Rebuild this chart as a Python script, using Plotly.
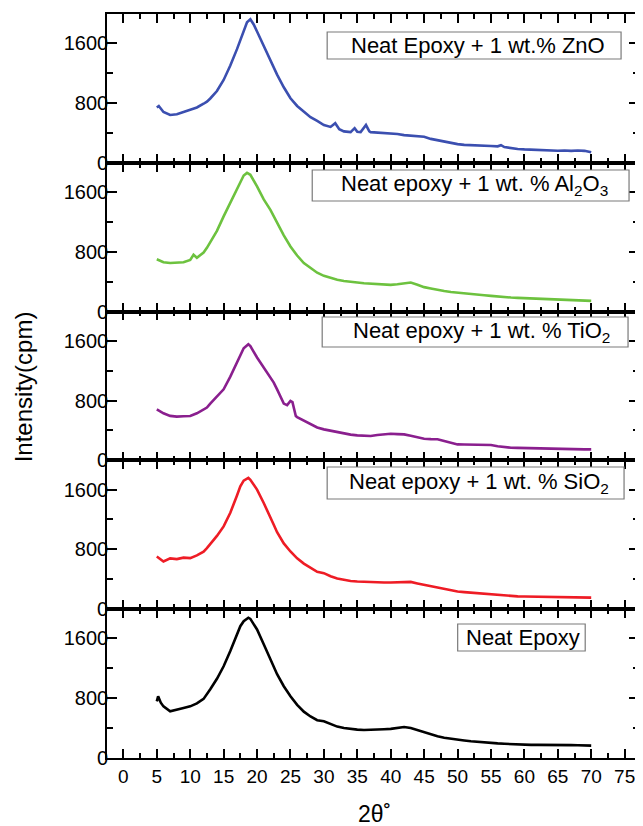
import plotly.graph_objects as go
from plotly.subplots import make_subplots

# ---------------- data ----------------
zno_x = [5, 5.3, 6, 7, 8, 9, 10, 11, 12, 12.5, 13, 14, 15, 16, 17, 17.5, 18, 18.5, 19, 19.5, 20, 21, 22,
         22.5, 23, 24, 25, 26, 27, 28, 29, 30, 31, 31.7, 32.3, 33, 34, 34.6, 35, 35.5, 36.3, 36.8, 37, 38,
         39, 40, 41, 42, 43, 44, 45, 46, 47, 48, 49, 50, 51, 52, 53, 54, 55, 56, 56.5, 57, 58, 59, 60, 61,
         62, 63, 64, 65, 66, 67, 68, 69, 70]
zno_y = [740, 760, 680, 640, 650, 680, 706, 740, 790, 818, 860, 960, 1108, 1300, 1520, 1644, 1780, 1880,
         1920, 1850, 1755, 1560, 1380, 1286, 1180, 1010, 863, 760, 680, 610, 560, 505, 480, 530, 450, 420,
         410, 463, 415, 410, 505, 420, 410, 405, 395, 393, 385, 370, 360, 355, 348, 320, 300, 280, 265, 250,
         240, 235, 225, 220, 224, 220, 235, 210, 195, 185, 179, 175, 170, 168, 165, 161, 165, 160, 165, 160,
         140]

al_x = [5, 6, 7, 8, 9, 10, 10.5, 11, 12, 12.5, 13, 14, 15, 16, 17, 17.5, 18, 18.5, 19, 20, 21, 22, 22.5,
        23, 24, 25, 26, 27, 28, 29, 30, 31, 32, 33, 34, 35, 36, 37, 38, 39, 40, 41, 42, 43, 44, 45, 46, 47,
        48, 49, 50, 51, 52, 53, 54, 55, 56, 57, 58, 59, 60, 61, 62, 63, 64, 65, 66, 67, 68, 69, 70]
al_y = [700, 660, 650, 655, 660, 690, 760, 720, 790, 853, 930, 1080, 1273, 1460, 1650, 1742, 1820, 1855,
        1830, 1675, 1500, 1360, 1273, 1180, 1020, 871, 750, 650, 580, 520, 478, 450, 425, 410, 395, 389,
        380, 375, 370, 365, 358, 365, 375, 389, 360, 327, 310, 290, 275, 262, 255, 245, 235, 225, 218, 210,
        200, 195, 188, 183, 179, 175, 172, 170, 168, 166, 160, 158, 155, 150, 143]

ti_x = [5, 6, 7, 7.5, 8, 9, 10, 11, 12, 12.5, 13, 14, 15, 16, 17, 17.5, 18, 18.7, 19, 20, 21, 22, 22.5, 23,
        24, 24.5, 25, 25.3, 25.8, 26, 27, 28, 29, 30, 31, 32, 33, 34, 35, 36, 37, 38, 39, 40, 41, 42, 43,
        44, 45, 46, 47, 48, 49, 50, 51, 52, 53, 54, 55, 56, 57, 58, 59, 60, 61, 62, 63, 64, 65, 66, 67, 68,
        69, 70]
ti_y = [683, 630, 595, 585, 585, 590, 594, 630, 675, 706, 760, 850, 951, 1120, 1310, 1420, 1500, 1554,
        1530, 1376, 1240, 1110, 1041, 950, 760, 740, 795, 780, 594, 580, 530, 480, 440, 415, 395, 380, 360,
        345, 335, 330, 326, 340, 350, 357, 352, 348, 330, 310, 290, 285, 283, 260, 235, 214, 212, 210, 208,
        207, 205, 190, 175, 170, 167, 165, 160, 155, 152, 150, 147, 150, 148, 147, 148, 147]

si_x = [5, 6, 7, 8, 9, 10, 11, 12, 12.5, 13, 14, 15, 16, 17, 17.5, 18, 18.7, 19, 20, 21, 22, 22.5, 23, 24,
        25, 26, 27, 28, 29, 30, 31, 32, 33, 34, 35, 36, 37, 38, 39, 40, 41, 42, 42.5, 43, 44, 45, 46, 47,
        48, 49, 50, 51, 52, 53, 54, 55, 56, 57, 58, 59, 60, 61, 62, 63, 64, 65, 66, 67, 68, 69, 70]
si_y = [705, 638, 680, 670, 690, 683, 720, 770, 817, 870, 980, 1107, 1290, 1520, 1643, 1720, 1755, 1730,
        1599, 1420, 1240, 1130, 1030, 880, 772, 680, 610, 550, 500, 482, 440, 410, 390, 378, 370, 365, 362,
        360, 358, 357, 362, 368, 370, 365, 345, 326, 305, 285, 265, 248, 236, 228, 220, 215, 210, 205, 195,
        185, 178, 172, 169, 168, 168, 169, 169, 169, 165, 162, 160, 157, 155]

neat_x = [5, 5.2, 5.6, 6, 7, 8, 9, 10, 11, 12, 12.5, 13, 14, 15, 16, 17, 17.5, 18, 18.7, 19, 20, 21, 22,
          22.5, 23, 24, 25, 26, 27, 28, 29, 30, 31, 32, 33, 34, 35, 36, 37, 38, 39, 40, 41, 42, 43, 44, 45,
          46, 47, 48, 49, 50, 51, 52, 53, 54, 55, 56, 57, 58, 59, 60, 61, 62, 63, 64, 65, 66, 67, 68, 69, 70]
neat_y = [758, 825, 740, 690, 624, 650, 670, 691, 730, 790, 848, 920, 1060, 1227, 1430, 1650, 1763, 1830,
          1876, 1860, 1719, 1520, 1330, 1227, 1120, 960, 825, 710, 620, 555, 505, 491, 450, 420, 400, 385,
          379, 375, 375, 380, 385, 389, 400, 415, 400, 370, 343, 315, 290, 270, 255, 245, 235, 225, 215,
          208, 201, 195, 190, 185, 181, 178, 176, 176, 177, 178, 178, 176, 172, 170, 168, 165]

series_labels = [
    "Neat Epoxy + 1 wt.% ZnO",
    "Neat epoxy + 1 wt. % Al<sub>2</sub>O<sub>3</sub>",
    "Neat epoxy + 1 wt. % TiO<sub>2</sub>",
    "Neat epoxy + 1 wt. % SiO<sub>2</sub>",
    "Neat Epoxy",
]
series_x = [zno_x, al_x, ti_x, si_x, neat_x]
series_y = [zno_y, al_y, ti_y, si_y, neat_y]
series_colors = ["#3B4FB0", "#6DC23F", "#8A1F8E", "#EE1C25", "#000000"]

x_tickvals = [0, 5, 10, 15, 20, 25, 30, 35, 40, 45, 50, 55, 60, 65, 70, 75]
y_tickvals = [0, 800, 1600]

# ---------------- figure ----------------
# the page body has an 8px margin, so the figure is laid out in page pixels minus 8
OFF = 8
W, H = 643 - OFF, 826 - OFF
PL, PR, PT, PB = 107, 641, 14, 758          # plot area in page pixels
ML, MR, MT, MB = PL - OFF, W - (PR - OFF), PT - OFF, H - (PB - OFF)
FONT = "Liberation Sans, Arial, sans-serif"

fig = make_subplots(rows=5, cols=1, shared_xaxes=True, vertical_spacing=0)

for i in range(5):
    fig.add_trace(go.Scatter(x=series_x[i], y=series_y[i], mode="lines",
                             line=dict(color=series_colors[i], width=2.6),
                             showlegend=False, hoverinfo="skip"), row=i + 1, col=1)

for i in range(5):
    fig.update_xaxes(row=i + 1, col=1, range=[-2.45, 77.15], tickvals=x_tickvals,
                     ticks="inside", ticklen=9, tickwidth=1.5, tickcolor="black",
                     minor=dict(ticks="inside", dtick=2.5, tick0=0, ticklen=5, tickwidth=1.5,
                                tickcolor="black", showgrid=False),
                     showline=True, linecolor="black", linewidth=1.6, mirror="allticks",
                     showgrid=False, zeroline=False,
                     showticklabels=(i == 4),
                     tickfont=dict(family=FONT, size=19, color="black"))
    fig.update_yaxes(row=i + 1, col=1, range=[0, 1990], tickvals=y_tickvals,
                     ticks="inside", ticklen=10, tickwidth=1.5, tickcolor="black",
                     minor=dict(ticks="inside", dtick=400, tick0=0, ticklen=6, tickwidth=1.5,
                                tickcolor="black", showgrid=False),
                     showline=True, linecolor="black", linewidth=1.6, mirror="allticks",
                     showgrid=False, zeroline=False, ticklabelstandoff=-7,
                     tickfont=dict(family=FONT, size=20, color="black"))


def px2paper(px, py):
    # page pixel -> paper coordinates
    return (px - PL) / (PR - PL), (PB - py) / (PB - PT)


# label boxes: (left, top, right, bottom, text left, text right) in page pixels
boxes = [
    (328, 32, 623, 59, 346, 613),
    (313, 170, 631, 201, 332, 620),
    (323, 317, 630, 347, 353, 613),
    (328, 467, 626, 499, 342, 618),
    (459, 624, 587, 651, 468, 581),
]
for (l, t, r, b, tl, tr), txt in zip(boxes, series_labels):
    x0, y1 = px2paper(l, t)
    x1, y0 = px2paper(r, b)
    fig.add_shape(type="rect", xref="paper", yref="paper", x0=x0, x1=x1, y0=y0, y1=y1,
                  line=dict(color="#7a7a7a", width=1.2), fillcolor="white", layer="above")
    ax, ay = px2paper((tl + tr) / 2, (t + b) / 2)
    fig.add_annotation(xref="paper", yref="paper", x=ax, y=ay, xanchor="center", yanchor="middle",
                       text=txt, showarrow=False,
                       font=dict(family=FONT, size=22, color="black"))

# axis titles
tx, ty = px2paper(23, 387)
fig.add_annotation(xref="paper", yref="paper", x=tx, y=ty, xanchor="center", yanchor="middle",
                   text="Intensity(cpm)", textangle=-90, showarrow=False,
                   font=dict(family=FONT, size=24, color="black"))
tx, ty = px2paper(376, 814)
fig.add_annotation(xref="paper", yref="paper", x=tx, y=ty, xanchor="center", yanchor="middle",
                   text="2θ˚", showarrow=False,
                   font=dict(family=FONT, size=23, color="black"))

fig.update_layout(width=W, height=H, margin=dict(l=ML, r=MR, t=MT, b=MB, pad=0),
                  paper_bgcolor="white", plot_bgcolor="white", showlegend=False,
                  font=dict(family=FONT, size=20, color="black"))

fig.write_html("out.html")
